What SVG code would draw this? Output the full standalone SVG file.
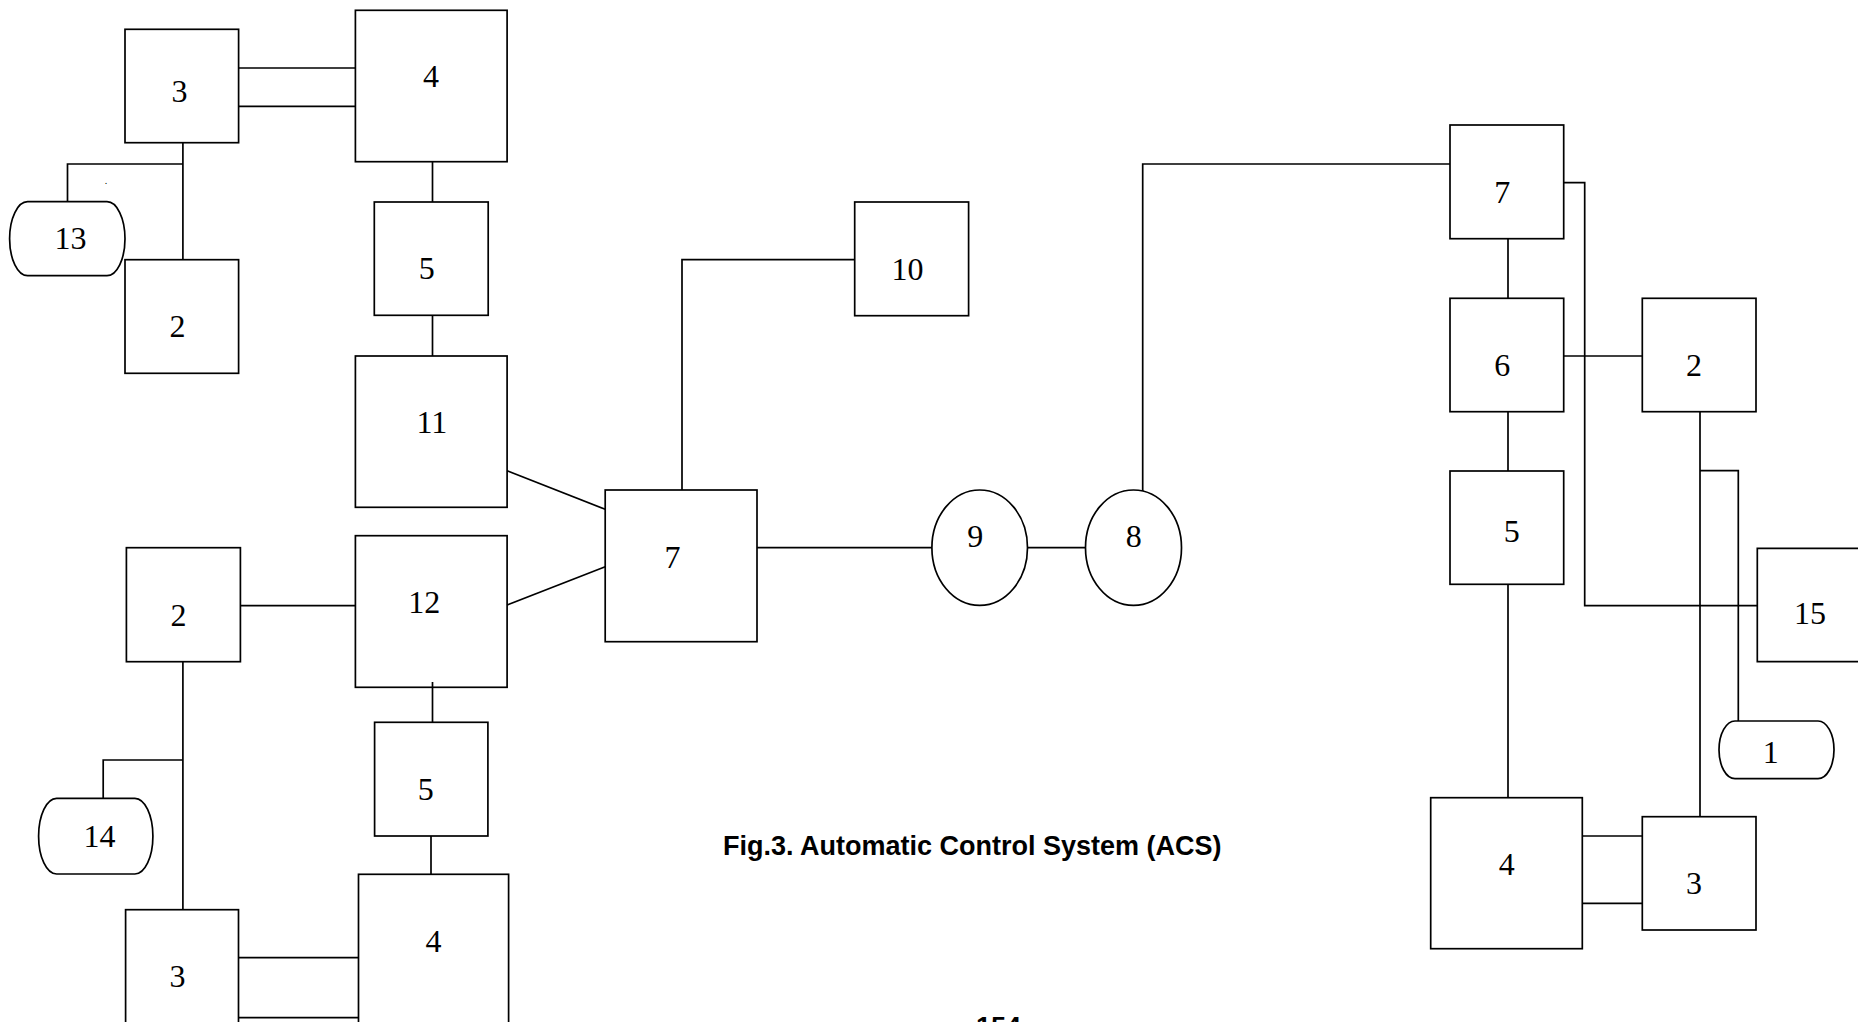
<svg xmlns="http://www.w3.org/2000/svg" width="1858" height="1022" viewBox="0 0 1858 1022">
<style>
.n{fill:none;stroke:#000;stroke-width:1.7}
.c{fill:none;stroke:#000;stroke-width:1.7}
.t{font-family:"Liberation Serif","Times New Roman",serif;font-size:32px;fill:#000;text-anchor:middle}
.cap{font-family:"Liberation Sans",Arial,sans-serif;font-weight:bold;font-size:27px;fill:#000}
</style>
<rect width="1858" height="1022" fill="#fff"/>
<g id="connectors">
<path class="c" d="M238.6,68H355.4M238.6,106.3H355.4"/>
<path class="c" d="M182.9,142.7V259.7"/>
<path class="c" d="M182.9,164H67.5V201.7"/>
<path class="c" d="M432.5,161.7V202"/>
<path class="c" d="M432.5,315.3V356"/>
<path class="c" d="M507.1,470.7L605.2,509.3"/>
<path class="c" d="M507.1,605L605.2,566.7"/>
<path class="c" d="M240.4,605.7H355.4"/>
<path class="c" d="M182.9,661.7V909.7"/>
<path class="c" d="M182.9,760H103.2V798.3"/>
<path class="c" d="M432.5,682V722.3"/>
<path class="c" d="M431,836V874.3"/>
<path class="c" d="M238.5,957.7H358.5M238.5,1017.7H358.5"/>
<path class="c" d="M682,490V259.7H854.7"/>
<path class="c" d="M757,547.7H932"/>
<path class="c" d="M1027.5,547.7H1085.5"/>
<path class="c" d="M1142.7,491V164H1450"/>
<path class="c" d="M1563.7,182.7H1584.7V605.7H1757.3"/>
<path class="c" d="M1508,238.7V298.3"/>
<path class="c" d="M1563.7,356H1642.3"/>
<path class="c" d="M1508,411.7V471"/>
<path class="c" d="M1508,584.3V797.7"/>
<path class="c" d="M1582.3,836H1642.3M1582.3,903.3H1642.3"/>
<path class="c" d="M1700,411.7V816.7" stroke-width="2.2"/>
<path class="c" d="M1700,470.7H1738.3V721"/>
</g>
<g id="n3a"><rect class="n" x="125" y="29.3" width="113.6" height="113.4"/><text class="t" x="179.6" y="101.7">3</text></g>
<g id="n4a"><rect class="n" x="355.4" y="10.3" width="151.7" height="151.4"/><text class="t" x="431" y="87.3">4</text></g>
<g id="n13"><rect class="n" x="9.6" y="201.7" width="115.4" height="74" rx="18" ry="37"/><text class="t" x="70.4" y="249.3">13</text></g>
<g id="dot"><text x="106" y="184" font-family="Liberation Serif,serif" font-size="10" text-anchor="middle">.</text></g>
<g id="n2a"><rect class="n" x="125" y="259.7" width="113.6" height="113.6"/><text class="t" x="177.5" y="337.3">2</text></g>
<g id="n5a"><rect class="n" x="374.3" y="202" width="113.9" height="113.3"/><text class="t" x="426.8" y="279.3">5</text></g>
<g id="n11"><rect class="n" x="355.4" y="356" width="151.7" height="151.3"/><text class="t" x="431.8" y="433.3">11</text></g>
<g id="n12"><rect class="n" x="355.4" y="535.7" width="151.7" height="151.6"/><text class="t" x="424.3" y="613.3">12</text></g>
<g id="n2b"><rect class="n" x="126.4" y="547.7" width="114" height="114"/><text class="t" x="178.6" y="625.7">2</text></g>
<g id="n14"><rect class="n" x="38.6" y="798.3" width="114.3" height="75.7" rx="18" ry="37.8"/><text class="t" x="99.6" y="846.7">14</text></g>
<g id="n5b"><rect class="n" x="374.6" y="722.3" width="113.3" height="113.7"/><text class="t" x="425.8" y="800">5</text></g>
<g id="n4b"><rect class="n" x="358.5" y="874.3" width="150.1" height="170"/><text class="t" x="433.5" y="951.7">4</text></g>
<g id="n3b"><rect class="n" x="125.6" y="909.7" width="112.9" height="140"/><text class="t" x="177.5" y="986.7">3</text></g>
<g id="n7a"><rect class="n" x="605.2" y="490" width="151.8" height="151.7"/><text class="t" x="672.6" y="567.7">7</text></g>
<g id="n10"><rect class="n" x="854.7" y="202" width="113.9" height="113.7"/><text class="t" x="907.4" y="280">10</text></g>
<g id="n9"><ellipse class="n" cx="979.7" cy="547.7" rx="47.8" ry="57.7"/><text class="t" x="975.3" y="546.7">9</text></g>
<g id="n8"><ellipse class="n" cx="1133.5" cy="547.7" rx="48" ry="57.7"/><text class="t" x="1133.8" y="546.7">8</text></g>
<g id="n7b"><rect class="n" x="1450" y="125" width="113.7" height="113.7"/><text class="t" x="1502.3" y="202.7">7</text></g>
<g id="n6"><rect class="n" x="1450" y="298.3" width="113.7" height="113.4"/><text class="t" x="1502.3" y="376">6</text></g>
<g id="n2c"><rect class="n" x="1642.3" y="298.3" width="113.7" height="113.4"/><text class="t" x="1694" y="376">2</text></g>
<g id="n5c"><rect class="n" x="1450" y="471" width="113.7" height="113.3"/><text class="t" x="1511.7" y="541.7">5</text></g>
<g id="n15"><path class="n" d="M1870,548.3H1757.3V661.7H1870"/><text class="t" x="1810" y="624">15</text></g>
<g id="n1"><rect class="n" x="1719" y="721" width="115" height="57.7" rx="16" ry="28.8"/><text class="t" x="1770.7" y="762.7" font-size="26">1</text></g>
<g id="n4c"><rect class="n" x="1430.7" y="797.7" width="151.6" height="151"/><text class="t" x="1506.7" y="875">4</text></g>
<g id="n3c"><rect class="n" x="1642.3" y="816.7" width="113.7" height="113.3"/><text class="t" x="1694" y="894">3</text></g>
<g id="caption"><text class="cap" x="723" y="855">Fig.3. Automatic Control System (ACS)</text></g>
<g id="page"><text class="cap" x="976" y="1036">154</text></g>
</svg>
